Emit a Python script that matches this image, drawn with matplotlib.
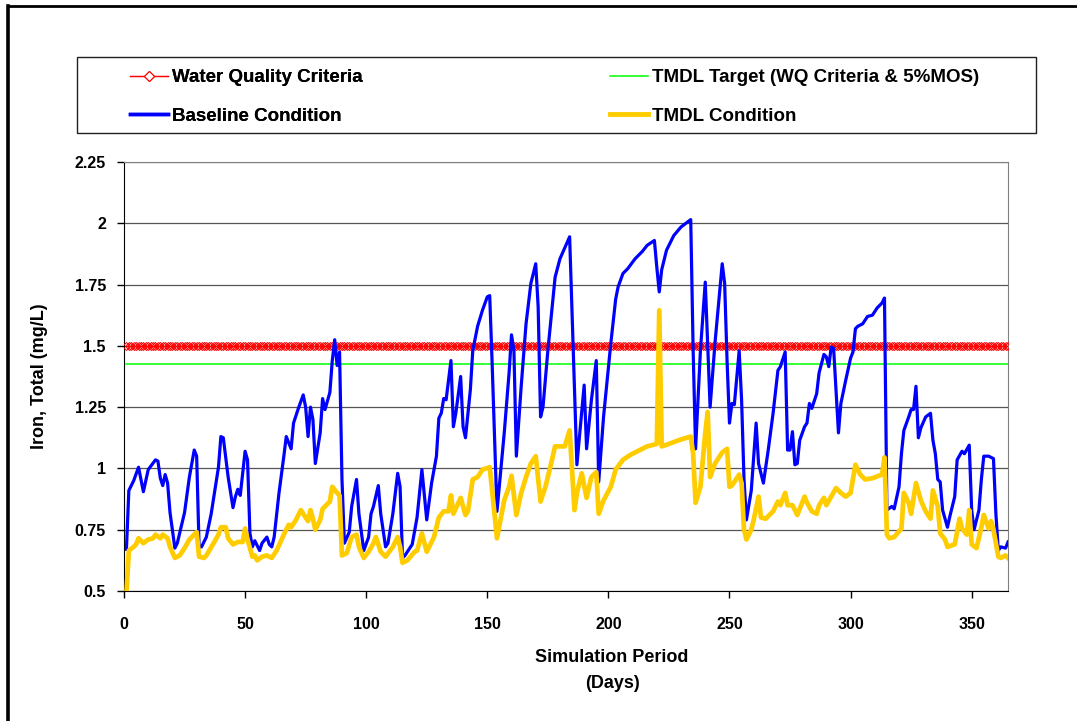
import matplotlib
matplotlib.use("Agg")
import matplotlib.pyplot as plt
import numpy as np
from matplotlib.lines import Line2D
from matplotlib.patches import Rectangle

plt.rcParams['font.family'] = ['Liberation Sans', 'DejaVu Sans']
plt.rcParams['font.weight'] = 'bold'

# criteria levels (mg/L)
wq_criteria = 1.5
tmdl_target = 1.425  # criteria minus 5% MOS
criteria_days = np.arange(1, 366)

# baseline condition (day, mg/L)
base_days = [1, 2, 4, 6, 8, 10, 13, 14, 15, 16, 17, 18, 19, 21, 22, 25, 27, 29, 30, 31,
             32, 34, 36, 39, 40, 41, 43, 45, 46, 47, 48, 49, 50, 51, 52, 53, 54, 56, 57, 59,
             60, 61, 62, 64, 66, 67, 69, 70, 72, 74, 75, 76, 77, 78, 79, 81, 82, 83, 85, 86,
             87, 88, 89, 90, 91, 93, 94, 96, 97, 99, 101, 102, 103, 105, 106, 108, 109, 111, 113, 114,
             115, 116, 119, 121, 123, 125, 127, 129, 130, 131, 132, 133, 135, 136, 137, 139, 140, 141, 143, 144,
             146, 148, 150, 151, 152, 154, 157, 159, 160, 161, 162, 164, 166, 168, 170, 171, 172, 173, 175, 178,
             180, 182, 184, 187, 190, 191, 193, 195, 196, 198, 201, 203, 204, 206, 208, 211, 214, 216, 219, 220,
             221, 222, 224, 227, 230, 234, 235, 236, 238, 240, 242, 244, 245, 247, 248, 249, 250, 251, 252, 254,
             255, 256, 257, 259, 261, 262, 264, 266, 268, 270, 271, 273, 274, 275, 276, 277, 278, 279, 281, 282,
             283, 284, 286, 287, 289, 290, 291, 292, 293, 295, 296, 298, 300, 301, 302, 303, 305, 306, 307, 309,
             311, 313, 314, 315, 317, 318, 320, 321, 322, 324, 325, 326, 327, 328, 329, 331, 333, 334, 335, 336,
             337, 338, 340, 341, 343, 344, 346, 347, 349, 350, 351, 353, 354, 355, 357, 359, 360, 361, 362, 364,
             365]
base_vals = [0.67, 0.91, 0.95, 1.005, 0.905, 0.995, 1.035, 1.03, 0.96, 0.93, 0.975, 0.94, 0.82, 0.675, 0.695, 0.82, 0.965, 1.075, 1.05, 0.68,
             0.68, 0.72, 0.815, 1.005, 1.13, 1.125, 0.965, 0.84, 0.885, 0.915, 0.89, 0.98, 1.07, 1.035, 0.735, 0.68, 0.705, 0.665, 0.695, 0.72,
             0.69, 0.68, 0.72, 0.9, 1.05, 1.13, 1.08, 1.185, 1.245, 1.30, 1.25, 1.13, 1.25, 1.2, 1.02, 1.145, 1.285, 1.24, 1.31, 1.44,
             1.525, 1.42, 1.475, 0.955, 0.695, 0.74, 0.845, 0.955, 0.815, 0.665, 0.72, 0.815, 0.845, 0.93, 0.815, 0.68, 0.695, 0.815, 0.98, 0.925,
             0.635, 0.645, 0.69, 0.80, 0.995, 0.79, 0.94, 1.05, 1.205, 1.225, 1.285, 1.28, 1.44, 1.17, 1.225, 1.375, 1.17, 1.125, 1.32, 1.48,
             1.58, 1.645, 1.70, 1.705, 1.43, 0.825, 1.145, 1.39, 1.545, 1.48, 1.05, 1.335, 1.59, 1.755, 1.835, 1.66, 1.21, 1.25, 1.48, 1.78,
             1.855, 1.9, 1.945, 1.015, 1.34, 1.08, 1.28, 1.44, 0.945, 1.21, 1.51, 1.69, 1.74, 1.795, 1.815, 1.855, 1.885, 1.91, 1.93, 1.82,
             1.72, 1.81, 1.89, 1.95, 1.985, 2.015, 1.48, 1.08, 1.48, 1.76, 1.25, 1.51, 1.62, 1.835, 1.755, 1.44, 1.185, 1.265, 1.26, 1.48,
             1.28, 0.955, 0.79, 0.91, 1.185, 1.02, 0.94, 1.075, 1.225, 1.40, 1.415, 1.475, 1.075, 1.075, 1.15, 1.015, 1.02, 1.115, 1.17, 1.185,
             1.265, 1.245, 1.305, 1.39, 1.465, 1.455, 1.415, 1.495, 1.49, 1.145, 1.265, 1.36, 1.45, 1.475, 1.57, 1.58, 1.59, 1.605, 1.62, 1.625,
             1.655, 1.675, 1.695, 0.83, 0.845, 0.835, 0.925, 1.06, 1.155, 1.21, 1.24, 1.24, 1.335, 1.125, 1.165, 1.21, 1.225, 1.115, 1.06, 0.955,
             0.945, 0.83, 0.76, 0.805, 0.885, 1.035, 1.07, 1.06, 1.095, 0.83, 0.75, 0.83, 0.955, 1.05, 1.05, 1.04, 0.815, 0.665, 0.68, 0.675,
             0.70]

# TMDL condition (day, mg/L)
tmdl_days = [1, 2, 4, 5, 6, 8, 10, 12, 13, 15, 16, 18, 19, 21, 23, 25, 27, 30, 31, 33,
             34, 37, 39, 40, 42, 43, 45, 47, 49, 50, 51, 53, 54, 55, 57, 59, 61, 63, 66, 68,
             69, 71, 73, 74, 76, 77, 78, 79, 81, 82, 83, 85, 86, 88, 89, 90, 92, 94, 96, 97,
             99, 101, 103, 104, 106, 108, 111, 113, 114, 115, 117, 120, 121, 123, 125, 128, 130, 132, 134, 135,
             136, 139, 141, 142, 144, 146, 148, 151, 152, 154, 157, 159, 160, 162, 164, 166, 168, 170, 172, 174,
             176, 178, 180, 182, 184, 186, 187, 189, 191, 193, 195, 196, 198, 201, 203, 206, 209, 213, 216, 220,
             221, 222, 225, 229, 234, 235, 236, 238, 240, 241, 242, 244, 247, 249, 250, 251, 253, 254, 255, 256,
             257, 259, 260, 262, 263, 265, 268, 270, 271, 273, 274, 276, 278, 280, 281, 282, 284, 286, 287, 289,
             290, 292, 294, 296, 298, 300, 302, 304, 306, 309, 313, 314, 315, 316, 318, 321, 322, 324, 325, 327,
             329, 331, 333, 334, 336, 337, 339, 340, 343, 345, 346, 348, 349, 350, 352, 354, 355, 357, 358, 359,
             361, 362, 364, 365]
tmdl_vals = [0.49, 0.665, 0.68, 0.69, 0.715, 0.695, 0.71, 0.715, 0.73, 0.715, 0.73, 0.715, 0.68, 0.635, 0.645, 0.675, 0.71, 0.74, 0.64, 0.635,
             0.645, 0.695, 0.73, 0.76, 0.76, 0.715, 0.69, 0.70, 0.70, 0.755, 0.71, 0.64, 0.645, 0.625, 0.64, 0.645, 0.635, 0.665, 0.73, 0.77,
             0.76, 0.79, 0.83, 0.815, 0.785, 0.83, 0.795, 0.75, 0.79, 0.835, 0.845, 0.865, 0.925, 0.90, 0.89, 0.645, 0.655, 0.72, 0.73, 0.68,
             0.635, 0.66, 0.695, 0.72, 0.66, 0.64, 0.68, 0.72, 0.68, 0.615, 0.625, 0.66, 0.665, 0.735, 0.66, 0.72, 0.80, 0.825, 0.825, 0.89,
             0.815, 0.88, 0.81, 0.825, 0.955, 0.965, 0.995, 1.005, 0.91, 0.715, 0.87, 0.925, 0.97, 0.81, 0.90, 0.965, 1.02, 1.05, 0.865, 0.925,
             1.005, 1.09, 1.09, 1.09, 1.155, 0.83, 0.90, 0.98, 0.88, 0.965, 0.985, 0.815, 0.87, 0.925, 0.995, 1.035, 1.055, 1.075, 1.09, 1.10,
             1.645, 1.09, 1.10, 1.115, 1.13, 1.06, 0.86, 0.925, 1.145, 1.23, 0.965, 1.02, 1.065, 1.08, 0.925, 0.93, 0.96, 0.975, 0.94, 0.75,
             0.71, 0.75, 0.79, 0.885, 0.80, 0.795, 0.825, 0.865, 0.85, 0.90, 0.85, 0.85, 0.81, 0.86, 0.885, 0.86, 0.825, 0.815, 0.85, 0.88,
             0.85, 0.885, 0.92, 0.90, 0.885, 0.90, 1.015, 0.975, 0.955, 0.96, 0.975, 1.045, 0.73, 0.715, 0.72, 0.755, 0.90, 0.86, 0.815, 0.94,
             0.87, 0.825, 0.795, 0.91, 0.845, 0.735, 0.71, 0.68, 0.69, 0.795, 0.755, 0.73, 0.83, 0.69, 0.675, 0.76, 0.81, 0.755, 0.785, 0.75,
             0.64, 0.635, 0.645, 0.635]

x_ticks = [0, 50, 100, 150, 200, 250, 300, 350]
y_ticks = [0.5, 0.75, 1.0, 1.25, 1.5, 1.75, 2.0, 2.25]

W, H = 1077, 721
fig = plt.figure(figsize=(W / 100, H / 100), dpi=100)
ax = fig.add_axes([124 / W, 1 - 591 / H, (1008 - 124) / W, (591 - 162) / H])

# series
ax.plot(criteria_days, np.full(len(criteria_days), wq_criteria), color='#FF0000', lw=0.9,
        marker='D', ms=4.5, mfc='none', mec='#FF0000', mew=0.7, zorder=3)
ax.plot(criteria_days, np.full(len(criteria_days), tmdl_target), color='#00FF00', lw=1.1, zorder=3)
ax.plot(base_days, base_vals, color='#0000FF', lw=2.3, zorder=4)
ax.plot(tmdl_days, tmdl_vals, color='#FFCC00', lw=3.4, zorder=5)

ax.set_xlim(0, 365)
ax.set_ylim(0.5, 2.25)
ax.set_xticks(x_ticks)
ax.set_yticks(y_ticks)
ax.set_yticklabels([f"{v:g}" for v in y_ticks])
ax.tick_params(axis='both', direction='out', length=5, width=1, labelsize=11.5, colors='black')
ax.tick_params(axis='x', pad=14)
ax.tick_params(axis='y', pad=8)
for lbl in ax.get_xticklabels() + ax.get_yticklabels():
    lbl.set_fontweight('bold')

ax.grid(axis='y', color='#555555', lw=0.9, zorder=1)
ax.spines['left'].set_color('black')
ax.spines['bottom'].set_color('black')
ax.spines['top'].set_color('#808080')
ax.spines['right'].set_color('#808080')

fig.text(40 / W, 1 - 376 / H, "Iron, Total (mg/L)", rotation=90, ha='center', va='center',
         fontsize=13, fontweight='bold')
fig.text(612 / W, 1 - 658 / H, "Simulation Period", ha='center', va='center', fontsize=13, fontweight='bold')
fig.text(612 / W, 1 - 683 / H, "(Days)", ha='center', va='center', fontsize=13, fontweight='bold')

# legend, two single-column blocks inside one box
h_wq = Line2D([], [], color='#FF0000', lw=0.9, marker='D', ms=5, mfc='white', mec='#FF0000', mew=0.8)
h_tt = Line2D([], [], color='#00FF00', lw=1.1)
h_bl = Line2D([], [], color='#0000FF', lw=2.5)
h_td = Line2D([], [], color='#FFCC00', lw=3.5)
leg_kw = dict(loc='upper left', frameon=False, prop={'size': 13.5, 'weight': 'bold'},
              handlelength=2.0, handletextpad=0.25, labelspacing=1.15, borderpad=0, borderaxespad=0)
leg1 = fig.legend([h_wq, h_bl], ["Water Quality Criteria", "Baseline Condition"],
                  bbox_to_anchor=(130 / W, 1 - 69 / H), **leg_kw)
fig.add_artist(leg1)
fig.legend([h_tt, h_td], ["TMDL Target (WQ Criteria & 5%MOS)", "TMDL Condition"],
           bbox_to_anchor=(610 / W, 1 - 69 / H), **leg_kw)
fig.patches.append(Rectangle((77 / W, 1 - 133 / H), (1036 - 77) / W, (133 - 57) / H,
                             transform=fig.transFigure, fill=False, ec='#202020', lw=1))

# outer frame (only left and top edges fall inside the picture)
fig.add_artist(Line2D([8 / W, 8 / W], [0, 1 - 6 / H], color='black', lw=2.6, transform=fig.transFigure))
fig.add_artist(Line2D([8 / W, 1], [1 - 6 / H, 1 - 6 / H], color='black', lw=2.0, transform=fig.transFigure))

fig.savefig("out.png", dpi=100)
